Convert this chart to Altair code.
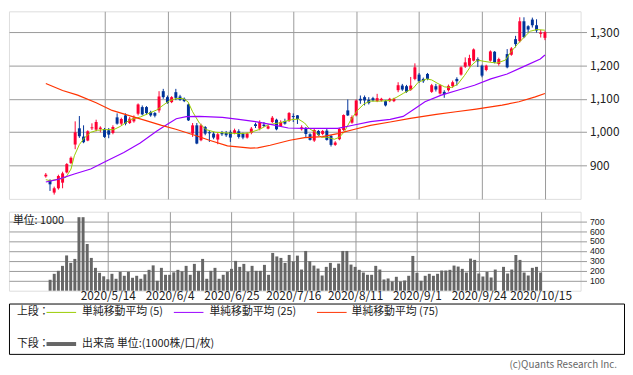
import altair as alt
import pandas as pd

FONT = "Noto Sans CJK JP"
RED = "#ff0033"
BLUE = "#003399"
MA5_COLOR = "#99cc00"
MA25_COLOR = "#9900ff"
MA75_COLOR = "#ff3300"
GRID = "#999999"

# trading-day index 0 = 2020/4/20 ... 119 = 2020/10/15 (index 109 = 10/1, no trading)
DAY = list(range(120))
OPEN = [866, 854, 817, 830, 847, 878, 906, 962, 1011, 986,
        974, 1011, 1007, 1009, 1009, 1005, 997, 1044, 1025, 1050,
        1027, 1032, 1055, 1075, 1075, 1060, 1057, 1065, 1123, 1105,
        1090, 1120, 1107, 1100, 1083, 995, 1020, 975, 1015, 999,
        995, 977, 998, 997, 1000, 997, 1002, 995, 983, 997,
        1023, 1010, 1022, 1010, 1030, 1037, 1018, 1033, 1034, 1048,
        1050, 1008, 1009, 993, 974, 1003, 994, 1004, 988, 961,
        978, 1006, 1065, 1028, 1050, 1100, 1105, 1097, 1102, 1093,
        1095, 1093, 1093, 1093, 1126, 1140, 1138, 1127, 1160, 1173,
        1160, 1175, 1121, 1138, 1116, 1121, 1126, 1138, 1160, 1173,
        1197, 1200, 1215, 1220, 1200, 1187, 1215, 1242, 1205, None,
        1235, 1233, 1280, 1274, 1334, 1319, 1339, 1322, 1296, 1284]
HIGH = [876, 857, 835, 871, 880, 906, 926, 1032, 1048, 1020,
        1005, 1026, 1037, 1017, 1012, 1012, 1020, 1056, 1043, 1056,
        1045, 1050, 1086, 1080, 1078, 1064, 1060, 1123, 1130, 1110,
        1108, 1130, 1112, 1104, 1086, 1027, 1027, 1025, 1018, 1005,
        1000, 998, 1003, 1003, 1005, 1010, 1008, 998, 998, 1015,
        1028, 1035, 1030, 1022, 1048, 1040, 1035, 1040, 1060, 1056,
        1051, 1020, 1015, 996, 1010, 1006, 1006, 1010, 991, 972,
        1012, 1053, 1098, 1050, 1098, 1110, 1110, 1105, 1106, 1115,
        1103, 1096, 1103, 1103, 1150, 1145, 1142, 1166, 1207, 1178,
        1164, 1178, 1145, 1145, 1143, 1126, 1143, 1155, 1165, 1198,
        1225, 1233, 1252, 1225, 1203, 1203, 1246, 1244, 1224, None,
        1250, 1256, 1290, 1346, 1346, 1322, 1345, 1340, 1308, 1304]
LOW = [862, 822, 811, 826, 830, 875, 903, 948, 982, 966,
       972, 1006, 1002, 999, 982, 981, 993, 1022, 1020, 1020,
       1024, 1028, 1050, 1050, 1052, 1046, 1044, 1058, 1100, 1085,
       1087, 1096, 1094, 1090, 1033, 985, 963, 972, 990, 970,
       978, 963, 988, 985, 970, 993, 980, 978, 980, 993,
       1012, 1005, 1015, 1008, 1027, 1005, 1015, 1022, 1030, 1030,
       1024, 1004, 984, 974, 970, 988, 990, 974, 956, 958,
       975, 1003, 1048, 1025, 1047, 1085, 1080, 1083, 1092, 1090,
       1092, 1077, 1090, 1090, 1120, 1124, 1118, 1124, 1156, 1148,
       1148, 1156, 1118, 1122, 1113, 1103, 1122, 1133, 1140, 1170,
       1193, 1197, 1213, 1196, 1165, 1183, 1212, 1207, 1200, None,
       1192, 1230, 1255, 1270, 1283, 1300, 1315, 1300, 1285, 1277]
CLOSE = [871, 842, 830, 867, 875, 903, 922, 999, 987, 969,
         1002, 1014, 1030, 1013, 985, 992, 1015, 1025, 1039, 1025,
         1040, 1043, 1083, 1053, 1057, 1050, 1049, 1107, 1105, 1088,
         1105, 1103, 1097, 1093, 1035, 1020, 965, 1020, 995, 996,
         983, 993, 993, 990, 983, 1005, 985, 983, 995, 1010,
         1018, 1030, 1018, 1017, 1043, 1008, 1030, 1025, 1057, 1045,
         1039, 1014, 994, 976, 1006, 991, 1003, 976, 961, 968,
         1009, 1051, 1050, 1045, 1095, 1095, 1095, 1087, 1095, 1102,
         1100, 1080, 1100, 1100, 1141, 1128, 1121, 1140, 1195, 1153,
         1153, 1160, 1141, 1128, 1141, 1114, 1139, 1150, 1153, 1195,
         1210, 1223, 1249, 1213, 1170, 1200, 1243, 1210, 1220, None,
         1195, 1252, 1265, 1334, 1286, 1309, 1322, 1306, 1300, 1301]
VOLUME = [110, 170, 200, 250, 355, 280, 320, 740, 740, 470,
          330, 230, 180, 145, 115, 170, 120, 190, 150, 190,
          130, 150, 120, 165, 210, 255, 100, 230, 160, 160,
          185, 210, 195, 250, 160, 270, 200, 320, 120, 200,
          230, 120, 160, 190, 220, 300, 240, 270, 190, 250,
          200, 200, 260, 160, 380, 345, 330, 280, 360, 295,
          353, 213, 400, 297, 253, 223, 153, 240, 280, 230,
          273, 400, 400, 263, 240, 210, 183, 160, 160, 250,
          213, 113, 123, 93, 140, 93, 103, 150, 350, 180,
          100, 150, 170, 150, 170, 203, 203, 210, 253, 243,
          220, 183, 323, 310, 173, 143, 190, 133, 213, None,
          240, 173, 213, 360, 310, 183, 153, 230, 240, 183]

MA5_DAY = [0, 1, 2.9, 4.8, 6, 6.8, 8, 9.2, 10.7, 12.3, 13.9, 16.2, 17.8, 20.1,
           22.5, 24.9, 26.4, 28, 29.5, 31.1, 32.7, 33.9, 35, 36.6, 38.2, 40.5,
           42.9, 46, 48.4, 50.8, 53.1, 55.5, 58.6, 60.2, 61.7, 62.9, 64.1, 65.7,
           67.2, 68.8, 70, 71.2, 72.7, 74.3, 75.9, 77.4, 79.8, 82.1, 83.7, 85.3,
           87.6, 88.8, 90.8, 92, 93.5, 95.1, 96.7, 98.2, 99.8, 101.4, 102.9,
           104.5, 106.1, 107.6, 109.6, 110.8, 112.4, 113.9, 115.5, 117.1, 119]
MA5 = [856, 853, 857, 863, 888, 928, 962, 982, 999, 1005, 1007, 1007, 1017, 1037,
       1045, 1058, 1066, 1081, 1094, 1101, 1101, 1091, 1061, 1027, 1007, 999,
       997, 995, 997, 1007, 1022, 1027, 1037, 1039, 1027, 1009, 1001, 984,
       984, 978, 984, 1001, 1036, 1065, 1085, 1093, 1093, 1095, 1105, 1117,
       1132, 1150, 1160, 1157, 1146, 1136, 1134, 1144, 1170, 1200, 1217,
       1213, 1210, 1208, 1217, 1240, 1264, 1284, 1304, 1309, 1307]
MA25_DAY = [0, 2.9, 6.8, 10.7, 14.6, 18.6, 22.5, 26.4, 28.8, 31.1, 33.5, 36.6,
            42.1, 46, 50, 53.9, 57.8, 61.7, 69.6, 73.5, 77.4, 82.1, 85.2, 87.6,
            90.4, 94.3, 98.2, 102.2, 106.1, 110, 113.9, 117.9, 119]
MA25 = [849, 857, 873, 888, 913, 938, 967, 1002, 1022, 1040, 1046, 1047,
        1044, 1038, 1031, 1022, 1012, 1011, 1011, 1021, 1031, 1038, 1047, 1067,
        1091, 1111, 1126, 1141, 1160, 1175, 1197, 1220, 1232]
MA75_DAY = [0, 4, 7.6, 12, 15.8, 20.5, 23.7, 27.6, 31, 35.5, 39, 43.3, 48.8, 50.5,
            53.5, 58.2, 61.7, 66, 69.6, 73.9, 77.4, 82.1, 86.9, 93.1, 97.8, 102.6,
            108.8, 112.8, 116.7, 119]
MA75 = [1146, 1125, 1111, 1088, 1065, 1047, 1035, 1020, 1008, 990, 975, 958, 951, 952,
        960, 975, 983, 986, 995, 1009, 1020, 1030, 1041, 1053, 1061, 1069,
        1081, 1091, 1106, 1116]

TICK_DAY = [14, 29, 44, 59, 74, 89, 104, 119]
TICK_LABEL = ["2020/5/14", "2020/6/4", "2020/6/25", "2020/7/16",
              "2020/8/11", "2020/9/1", "2020/9/24", "2020/10/15"]
PRICE_TICKS = [900, 1000, 1100, 1200, 1300]
VOL_TICKS = [100, 200, 300, 400, 500, 600, 700]

candles = pd.DataFrame({"day": DAY, "open": OPEN, "high": HIGH,
                        "low": LOW, "close": CLOSE}).dropna()
candles["dir"] = ["up" if c >= o else "down" for o, c in zip(candles["open"], candles["close"])]
vol = pd.DataFrame({"day": DAY, "vol": VOLUME}).dropna()
ma5 = pd.DataFrame({"day": MA5_DAY, "v": MA5})
ma25 = pd.DataFrame({"day": MA25_DAY, "v": MA25})
ma75 = pd.DataFrame({"day": MA75_DAY, "v": MA75})

W = 579
xscale = alt.Scale(domain=[-8.78, 127.5], nice=False, zero=False)
pscale = alt.Scale(domain=[798, 1364], nice=False, zero=False)
vscale = alt.Scale(domain=[0, 795], nice=False)

label_expr = "".join(f"datum.value == {d} ? '{l}' : " for d, l in zip(TICK_DAY, TICK_LABEL)) + "''"

x_grid_only = alt.X("day:Q", scale=xscale, title=None,
                    axis=alt.Axis(values=TICK_DAY, labels=False, ticks=False, domain=False,
                                  grid=True, gridColor=GRID))
color = alt.Color("dir:N", scale=alt.Scale(domain=["up", "down"], range=[RED, BLUE]), legend=None)

price_axis = alt.Axis(orient="right", values=PRICE_TICKS, format=",.0f", tickSize=6, tickColor=GRID,
                      domain=False, grid=True, gridColor=GRID, labelPadding=3,
                      labelFontSize=12, labelFont=FONT, labelColor="#222", labelOverlap=False)

wicks = alt.Chart(candles).mark_rule(strokeWidth=1).encode(
    x=x_grid_only, y=alt.Y("low:Q", scale=pscale, title=None, axis=price_axis),
    y2="high:Q", color=color)
bodies = alt.Chart(candles).mark_rule(strokeWidth=3).encode(
    x="day:Q", y="open:Q", y2="close:Q", color=color)
l5 = alt.Chart(ma5).mark_line(color=MA5_COLOR, strokeWidth=1).encode(x="day:Q", y="v:Q")
l25 = alt.Chart(ma25).mark_line(color=MA25_COLOR, strokeWidth=1.2).encode(x="day:Q", y="v:Q")
l75 = alt.Chart(ma75).mark_line(color=MA75_COLOR, strokeWidth=1.2).encode(x="day:Q", y="v:Q")

upper = alt.layer(wicks, bodies, l5, l25, l75).properties(width=W, height=190)

vol_axis = alt.Axis(orient="right", values=VOL_TICKS, format="d", tickSize=6, tickColor=GRID,
                    domain=False, grid=True, gridColor=GRID, labelPadding=3, labelFontSize=8.9,
                    labelFont="Liberation Sans", labelColor="#222", labelOverlap=False,
                    labelBound=False)
bars = alt.Chart(vol).mark_bar(size=3, color="#666666").encode(
    x=alt.X("day:Q", scale=xscale, title=None,
            axis=alt.Axis(values=TICK_DAY, labelExpr=label_expr, ticks=False, domain=False,
                          grid=True, gridColor=GRID, labelPadding=0, labelFontSize=12,
                          labelFont=FONT, labelColor="#222", labelOverlap=False)),
    y=alt.Y("vol:Q", scale=vscale, title=None, axis=vol_axis))
one = pd.DataFrame({"k": [0]})
unit_txt = alt.Chart(one).mark_text(align="left", baseline="middle", fontSize=11, font=FONT,
                                    color="#222").encode(
    x=alt.value(4), y=alt.value(9), text=alt.value("単位: 1000"))
lower = alt.layer(bars, unit_txt).properties(width=W, height=80)

def rule(x1, x2, y, c, w):
    return alt.Chart(one).mark_rule(color=c, strokeWidth=w).encode(
        x=alt.value(x1), x2=alt.value(x2), y=alt.value(y))

def txt(x, y, s, size=11, align="left", c="#222"):
    return alt.Chart(one).mark_text(align=align, baseline="middle", fontSize=size, font=FONT,
                                    color=c).encode(x=alt.value(x), y=alt.value(y), text=alt.value(s))

legend = alt.layer(
    txt(8, 9, "上段："),
    rule(38, 68, 9, MA5_COLOR, 1), txt(74, 9, "単純移動平均 (5)"),
    rule(167, 197, 9, MA25_COLOR, 1), txt(203, 9, "単純移動平均 (25)"),
    rule(312, 342, 9, MA75_COLOR, 1), txt(347, 9, "単純移動平均 (75)"),
    txt(8, 41, "下段："),
    rule(38, 68, 41, "#666666", 4), txt(74, 41, "出来高 単位:(1000株/口/枚)"),
    txt(616, 62, "(c)Quants Research Inc.", size=10, align="right", c="#666666"),
).properties(width=623, height=51, view=alt.ViewBackground(stroke="#000000", strokeWidth=1))

chart = alt.vconcat(alt.vconcat(upper, lower, spacing=11), legend, spacing=0).configure_view(
    stroke=GRID, strokeWidth=1.5).configure(padding=0)

chart.save("out.html", embed_options={"renderer": "svg", "actions": False})
